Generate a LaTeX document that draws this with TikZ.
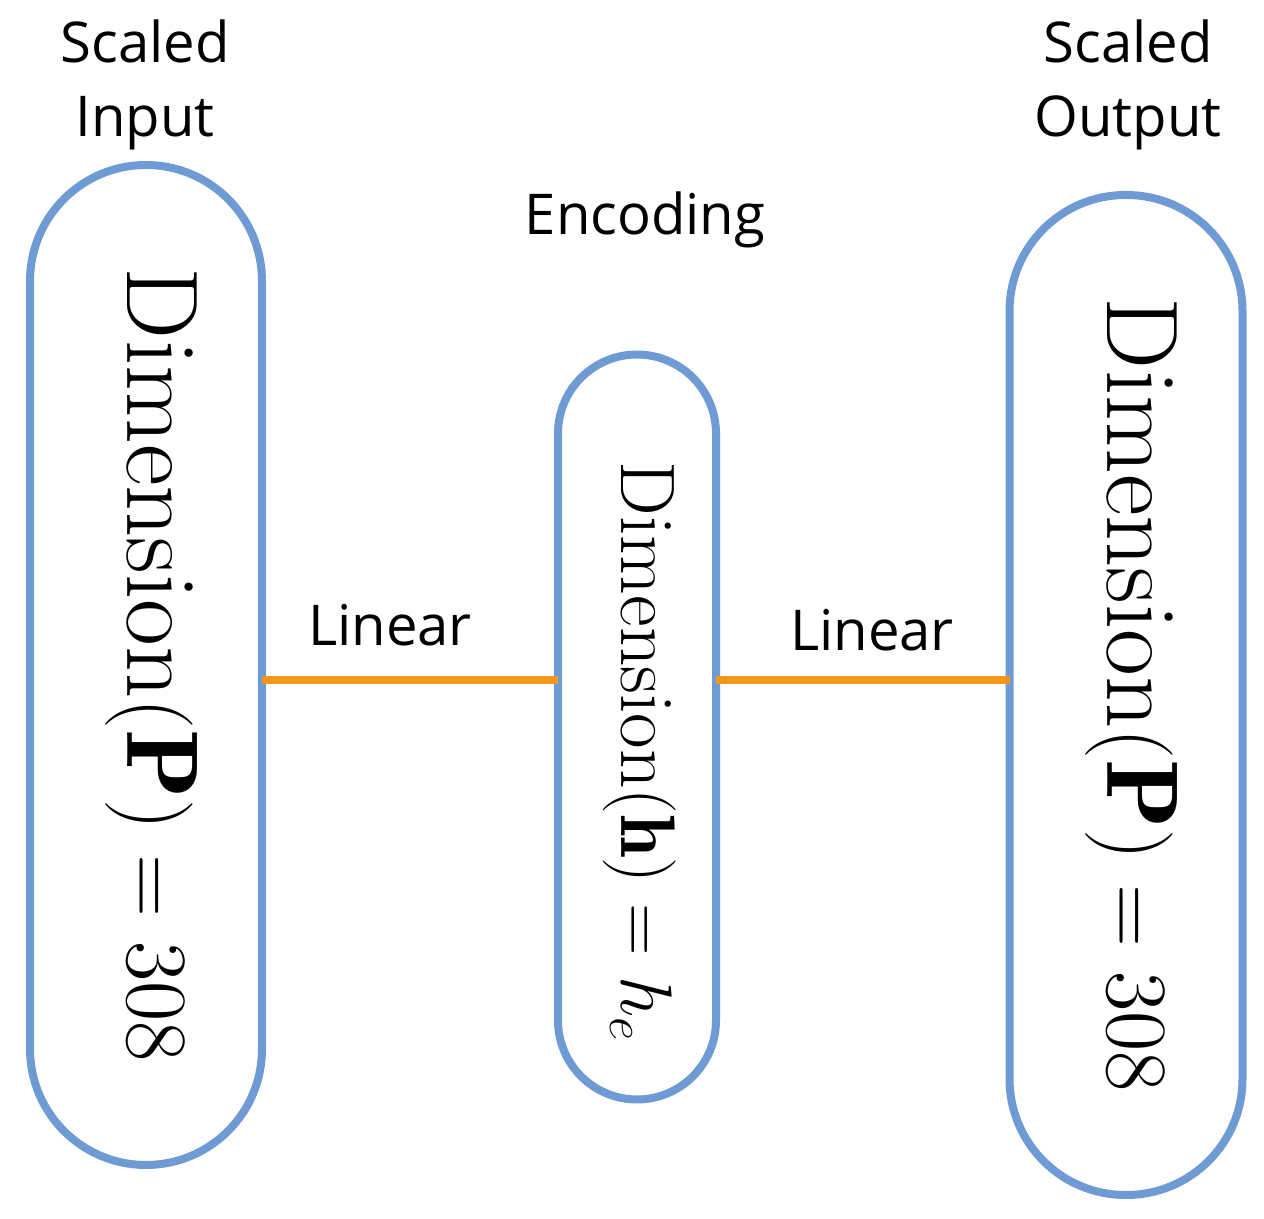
\documentclass[tikz,border=0pt]{standalone}
\usepackage{fontspec}
\newfontfamily\labelfont{Open Sans}
\usetikzlibrary{positioning}
\definecolor{capblue}{RGB}{110,155,212}
\definecolor{linorange}{RGB}{245,150,30}
\begin{document}
\begin{tikzpicture}[
    layer/.style={draw=capblue, line width=0.8mm, fill=white, rounded corners=#1, inner sep=0pt},
    link/.style={draw=linorange, line width=0.8mm},
    lbl/.style={font=\labelfont\fontsize{16}{21}\selectfont, align=center}
  ]
    \useasboundingbox (0,0) rectangle (12.64,-12.19);
    % layers
    \node[layer=1.16cm, minimum width=2.32cm, minimum height=10cm] (inp) at (1.46,-6.65) {};
    \node[layer=0.79cm, minimum width=1.58cm, minimum height=7.45cm] (enc) at (6.37,-7.27) {};
    \node[layer=1.16cm, minimum width=2.33cm, minimum height=10cm] (out) at (11.26,-6.95) {};
    \node[rotate=-90, font=\fontsize{29}{32}\selectfont] at (1.52,-6.65) {Dimension$(\mathbf{P}) = 308$};
    \node[rotate=-90, font=\fontsize{22}{26}\selectfont] at (6.40,-7.52) {Dimension$(\mathbf{h}) = h_e$};
    \node[rotate=-90, font=\fontsize{29}{32}\selectfont] at (11.32,-6.95) {Dimension$(\mathbf{P}) = 308$};
    % connectors
    \coordinate (a1) at (2.62,-6.80);
    \coordinate (a2) at (5.58,-6.80);
    \coordinate (b1) at (7.16,-6.80);
    \coordinate (b2) at (10.10,-6.80);
    \draw[link] (a1) -- (a2);
    \draw[link] (b1) -- (b2);
    % labels
    \node[lbl] (lin1) at (3.90,-6.25) {Linear};
    \node[lbl] (lin2) at (8.72,-6.30) {Linear};
    \node[lbl] (enclbl) at (6.45,-2.20) {Encoding};
    \node[lbl] (inlbl) at (1.45,-0.85) {Scaled\\Input};
    \node[lbl] (outlbl) at (11.28,-0.85) {Scaled\\Output};
\end{tikzpicture}
\end{document}
